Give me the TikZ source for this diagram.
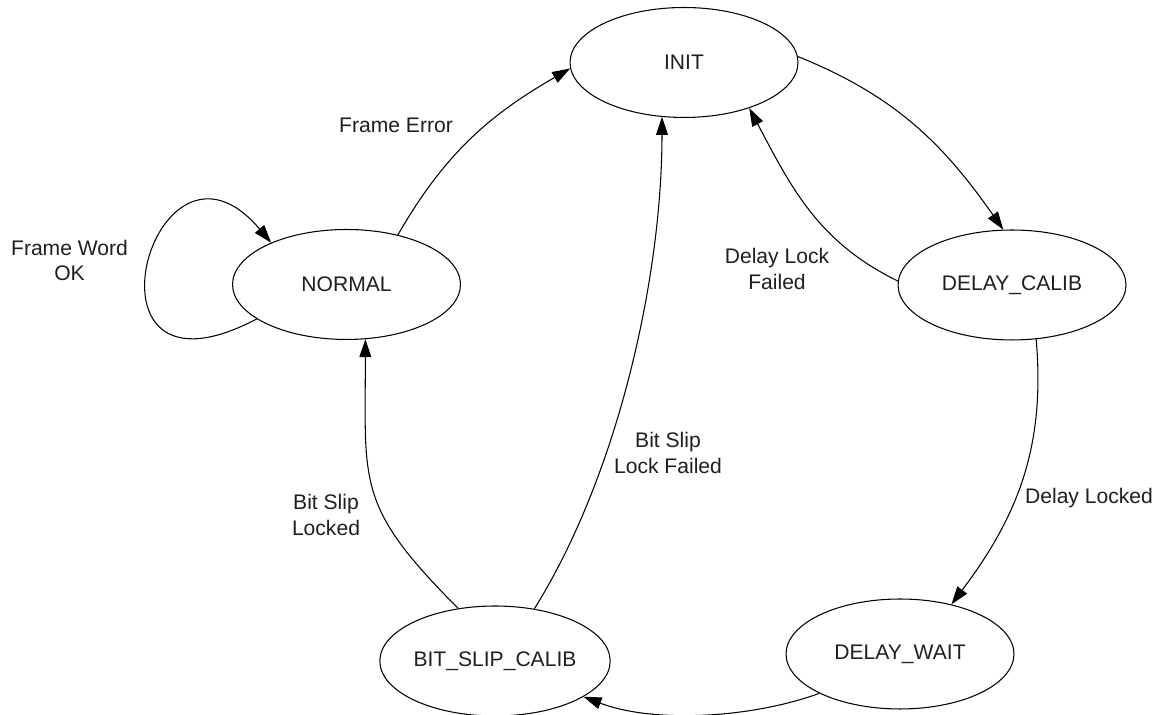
\documentclass[tikz,border=0pt]{standalone}
\usepackage{fontspec}
\setmainfont{Liberation Sans}
\usetikzlibrary{shapes.geometric,arrows.meta}
\begin{document}
\begin{tikzpicture}[x=0.02cm,y=0.02cm,
  every node/.style={font=\fontsize{12}{14.5}\selectfont, text=black!88},
  state/.style={draw, ellipse, inner sep=0pt, line width=0.6pt,
    minimum width=4.56cm, minimum height=2.2cm},
  lbl/.style={align=center, inner sep=0pt},
  trans/.style={draw, line width=0.6pt, -{Triangle[length=0.36cm,width=0.24cm]}}
]
\useasboundingbox (0,0) rectangle (1158,715);
\node[state] (init) at (684,652.5) {INIT};
\node[state] (normal) at (346.5,430.5) {NORMAL};
\node[state] (dcal) at (1012,430) {DELAY\_CALIB};
\node[state] (dwait) at (900,61) {DELAY\_WAIT};
\node[state] (bsc) at (495,54) {BIT\_SLIP\_CALIB};

\node[lbl] (lfe) at (396,590) {Frame Error};
\node[lbl] (lfw) at (69.5,454.5) {Frame Word\\OK};
\node[lbl] (ldlf) at (777,446) {Delay Lock\\Failed};
\node[lbl] (ldl) at (1089,217) {Delay Locked};
\node[lbl] (lbsl) at (326,200) {Bit Slip\\Locked};
\node[lbl] (lbslf) at (668,262) {Bit Slip\\Lock Failed};

\draw[trans] (normal.44) to[out=60,in=210] (init.183);
\draw[trans] (init.3) to[out=-22,in=125] (dcal.99);
\draw[trans] (dcal.178) to[out=154,in=-62] (init.-35);
\draw[trans] (dcal.-66) to[out=-85,in=53] (dwait.44);
\draw[trans] (dwait.206) to[out=200,in=-21,looseness=0.8] (bsc.-22);
\draw[trans] (bsc.125) to[out=135,in=-90,looseness=1.3] (normal.-71);
\draw[trans] (bsc.53) to[out=58,in=-90,looseness=0.8] (init.-112);
\draw[trans] (normal.201) .. controls +(-190,-100) and +(-118,140) .. (normal.151);
\end{tikzpicture}
\end{document}
